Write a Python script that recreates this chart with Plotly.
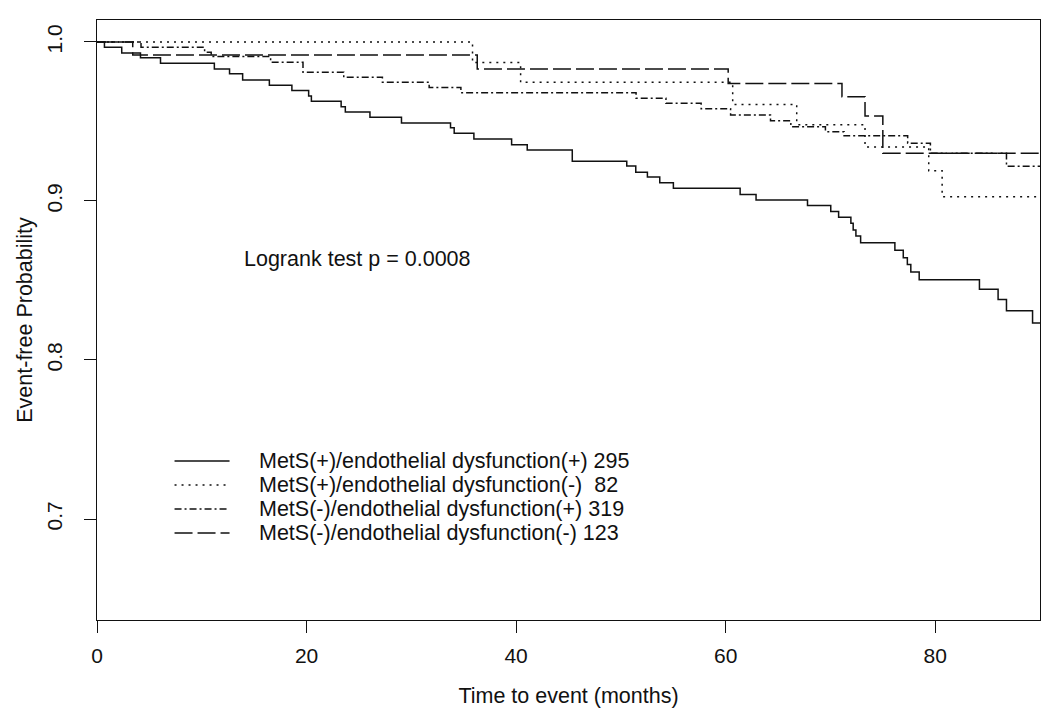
import plotly.graph_objects as go

# ---- data ----
series_names = [
    "MetS(+)/endothelial dysfunction(+) 295",
    "MetS(+)/endothelial dysfunction(-)\u00a0 82",
    "MetS(-)/endothelial dysfunction(+) 319",
    "MetS(-)/endothelial dysfunction(-) 123",
]

t_mets_pos_ed_pos = [0, 0.71, 2.36, 4.15, 6.06, 11.2, 12.65, 13.9, 16.45, 18.6, 20.2, 20.46,
                     23.3, 23.7, 26.05, 29.06, 33.74, 34.09, 35.97, 39.57, 41.06, 45.36, 50.56,
                     51.42, 52.53, 53.71, 55.01, 61.38, 62.9, 67.81, 70.03, 70.78, 71.95, 72.17,
                     72.43, 72.88, 76.15, 76.95, 77.34, 77.67, 78.47, 84.22, 86.0, 86.8, 89.29, 90]
s_mets_pos_ed_pos = [1.0, 0.9967, 0.993, 0.990, 0.9866, 0.983, 0.980, 0.976, 0.9727, 0.9694, 0.966,
                     0.9627, 0.9593, 0.956, 0.9526, 0.949, 0.946, 0.9426, 0.939, 0.9354, 0.932,
                     0.925, 0.922, 0.918, 0.915, 0.9115, 0.908, 0.904, 0.9006, 0.8972, 0.8934,
                     0.8898, 0.886, 0.8818, 0.878, 0.8738, 0.869, 0.8643, 0.860, 0.8553, 0.8504,
                     0.8445, 0.8381, 0.8309, 0.8233, 0.8233]

t_mets_pos_ed_neg = [0, 35.84, 40.43, 60.67, 66.78, 73.3, 79.38, 80.66, 90]
s_mets_pos_ed_neg = [1.0, 0.987, 0.9746, 0.9607, 0.948, 0.934, 0.919, 0.9026, 0.9026]

t_mets_neg_ed_pos = [0, 4.2, 10.27, 10.9, 16.57, 19.66, 23.55, 27.24, 31.7, 34.73, 51.45, 54.3,
                     57.66, 60.47, 64.28, 66.22, 69.52, 71.3, 77.37, 79.54, 86.8, 90]
s_mets_neg_ed_pos = [1.0, 0.9967, 0.9935, 0.9908, 0.9872, 0.981, 0.9778, 0.9747, 0.9713, 0.968,
                     0.9646, 0.9614, 0.958, 0.954, 0.9504, 0.9466, 0.9436, 0.941, 0.9363, 0.930,
                     0.9218, 0.9218]

t_mets_neg_ed_neg = [0, 3.41, 36.29, 60.24, 71.1, 73.3, 75.0, 90]
s_mets_neg_ed_neg = [1.0, 0.9918, 0.983, 0.9738, 0.9656, 0.9535, 0.930, 0.930]

x_ticks = [0, 20, 40, 60, 80]
y_ticks = [0.7, 0.8, 0.9, 1.0]
y_tick_labels = ["0.7", "0.8", "0.9", "1.0"]

# ---- styling ----
FONT = "Liberation Sans, Arial, Helvetica, sans-serif"
INK = "#111111"
dashes = ["solid", "2px,5px", "7px,3px,2px,3px", "18px,5px"]
times = [t_mets_pos_ed_pos, t_mets_pos_ed_neg, t_mets_neg_ed_pos, t_mets_neg_ed_neg]
survs = [s_mets_pos_ed_pos, s_mets_pos_ed_neg, s_mets_neg_ed_pos, s_mets_neg_ed_neg]

fig = go.Figure()
for name, t, s, d in zip(series_names, times, survs, dashes):
    fig.add_trace(go.Scatter(
        x=t, y=s, mode="lines", name=name, line_shape="hv",
        line=dict(color=INK, width=1.5, dash=d), showlegend=False,
        hoverinfo="skip",
    ))

# manual R-style legend (no box)
leg_x0, leg_x1, leg_tx = 7.4, 12.65, 15.3
leg_y = [0.7365, 0.7214, 0.7063, 0.6912]
for name, d, yy in zip(series_names, dashes, leg_y):
    fig.add_shape(type="line", xref="x", yref="y", x0=leg_x0, x1=leg_x1, y0=yy, y1=yy,
                  line=dict(color=INK, width=1.5, dash=d))
    fig.add_annotation(x=leg_tx, y=yy, xref="x", yref="y", text=name, showarrow=False,
                       xanchor="left", yanchor="middle",
                       font=dict(family=FONT, size=21.5, color=INK))

fig.add_annotation(x=24.9, y=0.8635, xref="x", yref="y", text="Logrank test p = 0.0008",
                   showarrow=False, xanchor="center", yanchor="middle",
                   font=dict(family=FONT, size=21.5, color=INK))

# the page body adds an 8px offset, so the figure is 8px smaller and margins shifted
fig.update_layout(
    width=1042, height=715,
    margin=dict(l=89, r=10, t=12, b=103, autoexpand=False),
    paper_bgcolor="white", plot_bgcolor="white",
    font=dict(family=FONT, size=21, color=INK),
    xaxis=dict(
        range=[0, 90], tickvals=x_ticks, ticks="outside", ticklen=12, tickwidth=1,
        tickcolor=INK, showline=True, linecolor=INK, linewidth=1, mirror=True,
        showgrid=False, zeroline=False, tickfont=dict(family=FONT, size=21, color=INK),
        ticklabelstandoff=5,
        title=dict(text="Time to event (months)", font=dict(family=FONT, size=21.5, color=INK),
                   standoff=21),
    ),
    yaxis=dict(
        range=[0.6365, 1.0138], tickvals=y_ticks, ticktext=y_tick_labels, tickangle=-90,
        ticks="outside", ticklen=12, tickwidth=1, tickcolor=INK, showline=True,
        linecolor=INK, linewidth=1, mirror=True, showgrid=False, zeroline=False,
        tickfont=dict(family=FONT, size=21, color=INK), ticklabelstandoff=14,
        title=dict(text="Event-free Probability", font=dict(family=FONT, size=21.5, color=INK),
                   standoff=4),
    ),
)

fig.write_html("out.html")
